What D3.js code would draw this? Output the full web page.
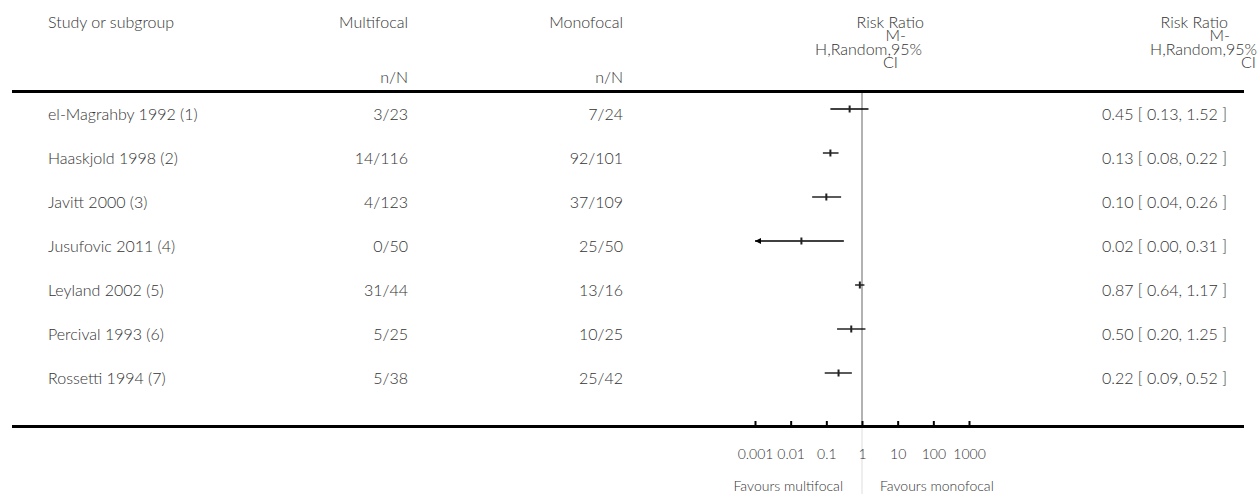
<!DOCTYPE html>
<html>
<head>
<meta charset="utf-8">
<script src="https://cdn.jsdelivr.net/npm/d3@7"></script>
<style>
  body { margin: 0; background: #fff; }
  svg text { font-family: Lato, "Open Sans", sans-serif; font-weight: 300; fill: #333; }
</style>
</head>
<body>
<div id="forest"></div>
<script>
// study rows
const studies = ["el-Magrahby 1992 (1)", "Haaskjold 1998 (2)", "Javitt 2000 (3)", "Jusufovic 2011 (4)",
                 "Leyland 2002 (5)", "Percival 1993 (6)", "Rossetti 1994 (7)"];
const multiEvents = [3, 14, 4, 0, 31, 5, 5];
const multiTotal = [23, 116, 123, 50, 44, 25, 38];
const monoEvents = [7, 92, 37, 25, 13, 10, 25];
const monoTotal = [24, 101, 109, 50, 16, 25, 42];
const riskRatio = [0.45, 0.13, 0.10, 0.02, 0.87, 0.50, 0.22];
const ciLow = [0.13, 0.08, 0.04, 0.00, 0.64, 0.20, 0.09];
const ciHigh = [1.52, 0.22, 0.26, 0.31, 1.17, 1.25, 0.52];
const tickValues = [0.001, 0.01, 0.1, 1, 10, 100, 1000];
const tickLabels = ["0.001", "0.01", "0.1", "1", "10", "100", "1000"];

const width = 1259, height = 494;
const svg = d3.select("#forest").append("svg")
    .attr("width", width)
    .attr("height", height);

const x = d3.scaleLog().domain([0.001, 1000]).range([755, 969]);
const y = d3.scaleBand().domain(d3.range(studies.length)).range([87, 395]);
const rowY = i => y(i) + y.bandwidth() / 2;

const fs = 16;

// headers
const header = svg.append("g").style("font-size", fs + "px");
header.append("text").attr("x", 48).attr("y", 28).text("Study or subgroup");
header.append("text").attr("x", 408).attr("y", 28).attr("text-anchor", "end").text("Multifocal");
header.append("text").attr("x", 408).attr("y", 83).attr("text-anchor", "end").text("n/N");
header.append("text").attr("x", 623).attr("y", 28).attr("text-anchor", "end").text("Monofocal");
header.append("text").attr("x", 623).attr("y", 83).attr("text-anchor", "end").text("n/N");

const rrHead = ["Risk Ratio", "M-", "H,Random,95%", "CI"];
const plotHeadX = [924, 906, 922, 898];
const colHeadX = [1228, 1230, 1257, 1256];
rrHead.forEach((t, k) => {
  header.append("text").attr("x", plotHeadX[k]).attr("y", 28 + k * 13.3)
      .attr("text-anchor", "end").text(t);
  header.append("text").attr("x", colHeadX[k]).attr("y", 28 + k * 13.3)
      .attr("text-anchor", "end").text(t);
});

// rule lines
svg.append("line").attr("x1", 12).attr("x2", 1244).attr("y1", 91.5).attr("y2", 91.5)
    .attr("stroke", "#000").attr("stroke-width", 3);
svg.append("line").attr("x1", 12).attr("x2", 1244).attr("y1", 426.5).attr("y2", 426.5)
    .attr("stroke", "#000").attr("stroke-width", 3);

// line of no effect
svg.append("line").attr("x1", x(1)).attr("x2", x(1)).attr("y1", 93).attr("y2", 425)
    .attr("stroke", "#999").attr("stroke-width", 1.5);
svg.append("line").attr("x1", x(1)).attr("x2", x(1)).attr("y1", 428).attr("y2", height)
    .attr("stroke", "#ddd").attr("stroke-width", 1);

// rows
const rows = svg.append("g").style("font-size", fs + "px")
  .selectAll("g").data(d3.range(studies.length)).enter().append("g");

rows.append("text").attr("x", 48).attr("y", i => rowY(i) + 11).text(i => studies[i]);
rows.append("text").attr("x", 408).attr("y", i => rowY(i) + 11).attr("text-anchor", "end")
    .text(i => multiEvents[i] + "/" + multiTotal[i]);
rows.append("text").attr("x", 623).attr("y", i => rowY(i) + 11).attr("text-anchor", "end")
    .text(i => monoEvents[i] + "/" + monoTotal[i]);
rows.append("text").attr("x", 1227).attr("y", i => rowY(i) + 11).attr("text-anchor", "end")
    .text(i => riskRatio[i].toFixed(2) + " [ " + ciLow[i].toFixed(2) + ", " + ciHigh[i].toFixed(2) + " ]");

const xmin = x.domain()[0];
rows.append("line")
    .attr("x1", i => ciLow[i] < xmin ? x(xmin) : x(ciLow[i]))
    .attr("x2", i => x(ciHigh[i]))
    .attr("y1", i => rowY(i)).attr("y2", i => rowY(i))
    .attr("stroke", "#000").attr("stroke-width", 1.3);
rows.append("rect")
    .attr("x", i => x(riskRatio[i]) - 1).attr("y", i => rowY(i) - 3.5)
    .attr("width", 2).attr("height", 7).attr("fill", "#222");
rows.filter(i => ciLow[i] < xmin).append("path")
    .attr("d", i => {
      const ax = x(xmin), ay = rowY(i);
      return `M${ax},${ay} L${ax + 6},${ay - 3} L${ax + 6},${ay + 3} Z`;
    })
    .attr("fill", "#000");

// axis
const axis = d3.axisBottom(x)
    .tickValues(tickValues)
    .tickFormat((d, i) => tickLabels[i])
    .tickSizeInner(-5).tickSizeOuter(0).tickPadding(23);
const ax = svg.append("g").attr("transform", "translate(0,426)").call(axis);
ax.select(".domain").remove();
ax.selectAll(".tick line").attr("stroke", "#000").attr("stroke-width", 2);
ax.selectAll(".tick text").style("font-family", "Lato, sans-serif").style("font-weight", 300)
    .style("font-size", "14px").attr("fill", "#333");

// favours labels
svg.append("text").attr("x", x(1) - 19).attr("y", 491).attr("text-anchor", "end")
    .style("font-size", "14px").text("Favours multifocal");
svg.append("text").attr("x", x(1) + 18).attr("y", 491)
    .style("font-size", "14px").text("Favours monofocal");
</script>
</body>
</html>
